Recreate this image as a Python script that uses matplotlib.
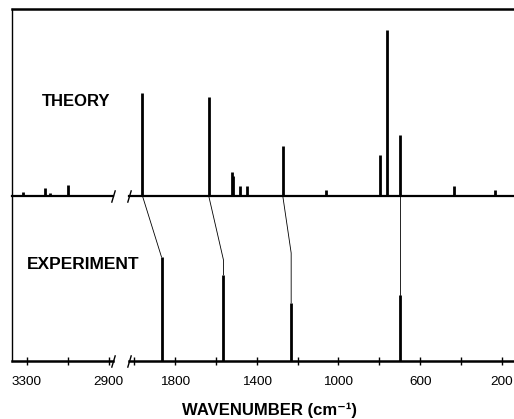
import matplotlib
matplotlib.use('Agg')
import matplotlib.pyplot as plt
from matplotlib.ticker import FixedLocator, FixedFormatter
import numpy as np

plt.rcParams['font.family'] = ['Liberation Sans', 'DejaVu Sans']

# theory spectrum (wavenumber, relative intensity)
theory_wn = [3320, 3212, 3188, 3100, 1958, 1634, 1521, 1516, 1482, 1448,
             1272, 1061, 797, 763, 699, 435, 234]
theory_int = [4, 8, 3, 11, 103, 99, 24, 20, 10, 10,
              50, 6, 41, 166, 61, 10, 6]

# experiment spectrum
exp_wn = [1865, 1562, 1231, 699]
exp_int = [104, 86, 58, 66]

# which theory band goes to which experimental band
link_theory = [1958, 1634, 1272, 699]
link_kink = [104, 101, 108, 105]

theory_base = 165
ymax = 352

# axis break
brk_hi = 2880
brk_lo = 2025
gap = 78.0
k = gap / (brk_hi - brk_lo)
xmin_wn = 3373
xmax_wn = 73

major_ticks = [3300, 2900, 1800, 1400, 1000, 600, 200]
minor_ticks = [3100, 2000, 1600, 1200, 800, 400]


def fwd(w):
    w = np.asarray(w, dtype=float)
    return np.where(w <= brk_lo, w,
                    np.where(w < brk_hi, brk_lo + (w - brk_lo) * k,
                             brk_lo + gap + (w - brk_hi)))


def inv(u):
    u = np.asarray(u, dtype=float)
    return np.where(u <= brk_lo, u,
                    np.where(u < brk_lo + gap, brk_lo + (u - brk_lo) / k,
                             brk_hi + (u - brk_lo - gap)))


fig = plt.figure(figsize=(5.14, 4.19), dpi=100)
ax = fig.add_axes([12/514, 58/419, 516/514, 352/419])
ax.set_xscale('function', functions=(fwd, inv))
ax.set_xlim(xmin_wn, xmax_wn)
ax.set_ylim(0, ymax)

# theory sticks
ax.vlines(theory_wn, theory_base, np.array(theory_int) + theory_base,
          color='black', lw=2.0)
# experiment sticks
ax.vlines(exp_wn, 0, exp_int, color='black', lw=2.0)

# connectors
for tw, ew, ky, eh in zip(link_theory, exp_wn, link_kink, exp_int):
    ax.plot([tw, ew, ew], [theory_base, ky, eh], color='black', lw=0.6)

# baselines (broken)
for yy, lw in [(theory_base, 1.6), (0, 1.8)]:
    ax.plot([xmin_wn, brk_hi], [yy, yy], color='black', lw=lw, clip_on=False)
    ax.plot([brk_lo, xmax_wn], [yy, yy], color='black', lw=lw, clip_on=False)
    ax.plot([brk_hi, brk_lo], [yy, yy], linestyle='none', marker=[(-0.3, -1), (0.3, 1)],
            markersize=9, mec='black', mew=1, clip_on=False)

ax.spines['bottom'].set_visible(False)
ax.spines['right'].set_visible(False)
ax.spines['top'].set_linewidth(1.8)
ax.spines['left'].set_linewidth(1.0)

ax.xaxis.set_major_locator(FixedLocator(major_ticks))
ax.xaxis.set_major_formatter(FixedFormatter([str(t) for t in major_ticks]))
ax.xaxis.set_minor_locator(FixedLocator(minor_ticks))
ax.xaxis.set_minor_formatter(FixedFormatter([''] * len(minor_ticks)))
ax.tick_params(axis='x', which='both', direction='inout', length=6, width=1,
               pad=8, labelsize=9.7)
ax.set_yticks([])

ax.text(0.0576, 0.737, 'THEORY', transform=ax.transAxes, ha='left', va='center',
        fontsize=12, fontweight='bold')
ax.text(0.029, 0.273, 'EXPERIMENT', transform=ax.transAxes, ha='left', va='center',
        fontsize=12.5, fontweight='bold')
ax.set_xlabel('WAVENUMBER (cm⁻¹)', fontsize=12, fontweight='bold', labelpad=10)

fig.savefig('out.png', dpi=100)
